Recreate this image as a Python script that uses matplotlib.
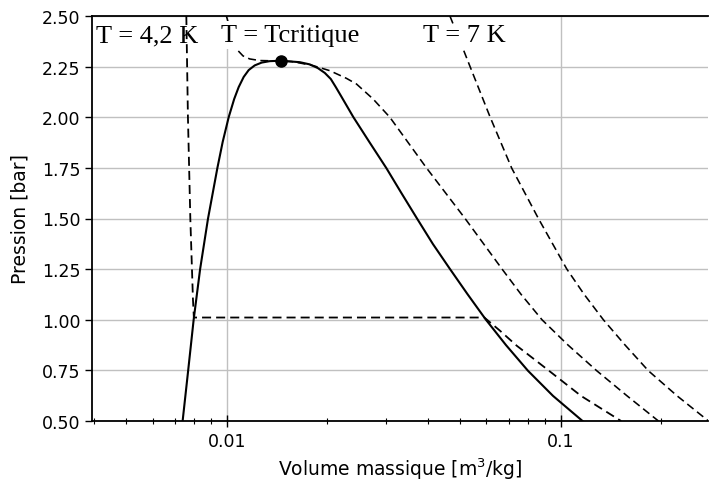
import matplotlib
matplotlib.use("Agg")
import matplotlib.pyplot as plt
from matplotlib.patches import Rectangle
from matplotlib.ticker import FixedLocator, FixedFormatter, LogLocator, NullFormatter

# Saturation dome (solid): liquid branch -> critical point -> vapour branch
dome_v = [0.007380, 0.007666, 0.007963, 0.008328, 0.008789, 0.009378, 0.009728,
          0.010139, 0.010531, 0.010864, 0.011245, 0.011640, 0.012133, 0.012734,
          0.013457, 0.014518,
          0.016554, 0.017738, 0.018745, 0.019673, 0.020505, 0.021225, 0.021971,
          0.023951, 0.026748, 0.030078, 0.033361, 0.037132, 0.041469, 0.046633,
          0.052620, 0.059790, 0.068640, 0.079901, 0.094959, 0.11641]
dome_p = [0.500, 0.748, 1.000, 1.251, 1.498, 1.749, 1.878,
          2.000, 2.090, 2.149, 2.199, 2.233, 2.256, 2.270,
          2.277, 2.279,
          2.272, 2.261, 2.243, 2.219, 2.189, 2.149, 2.107,
          2.001, 1.878, 1.749, 1.626, 1.501, 1.374, 1.251,
          1.127, 1.000, 0.875, 0.748, 0.624, 0.500]

# Isotherm T = 4.2 K
t42_v = [0.007571, 0.007655, 0.007783, 0.007924, 0.007974, 0.059133, 0.065853,
         0.073904, 0.090911, 0.11521, 0.15186]
t42_p = [2.500, 2.001, 1.498, 1.103, 1.011, 1.011, 0.946,
         0.872, 0.757, 0.624, 0.500]

# Isotherm T = Tcritique
tc_v = [0.009979, 0.010280, 0.010641, 0.011191, 0.011721, 0.012559, 0.013457,
        0.014518, 0.015664, 0.016554, 0.018146, 0.020364, 0.022852, 0.024485,
        0.027459, 0.030814, 0.039704, 0.051719, 0.066771, 0.076129, 0.088004,
        0.10532, 0.12841, 0.15828, 0.19645]
tc_p = [2.500, 2.426, 2.341, 2.303, 2.288, 2.280, 2.279,
        2.278, 2.275, 2.268, 2.255, 2.230, 2.192, 2.164,
        2.090, 2.000, 1.749, 1.501, 1.251, 1.126, 1.000,
        0.875, 0.748, 0.624, 0.500]

# Isotherm T = 7 K
t7_v = [0.046633, 0.049964, 0.053532, 0.061462, 0.071397, 0.085782, 0.10437,
        0.11761, 0.13439, 0.15611, 0.18334, 0.22352, 0.27747]
t7_p = [2.500, 2.377, 2.252, 2.003, 1.749, 1.501, 1.251,
        1.126, 1.000, 0.875, 0.748, 0.624, 0.500]

# Critical point
crit_v = [0.014518]
crit_p = [2.279]

yticks = [0.50, 0.75, 1.00, 1.25, 1.50, 1.75, 2.00, 2.25, 2.50]
ytick_labels = ["0.50", "0.75", "1.00", "1.25", "1.50", "1.75", "2.00", "2.25", "2.50"]
xticks = [0.01, 0.1]
xtick_labels = ["0.01", "0.1"]

labels = ["T = 4,2 K", "T = Tcritique", "T = 7 K"]

plt.rcParams['font.family'] = ['Verdana', 'DejaVu Sans']
fig = plt.figure(figsize=(7.1, 4.85), dpi=100)
ax = fig.add_axes([92/710, (485-422)/485, (708.5-92)/710, (422-17)/485])

ax.set_xscale('log')
ax.set_xlim(0.00395, 0.2775)
ax.set_ylim(0.5, 2.5)

dash = (0, (5.0, 2.8))
ax.plot(dome_v, dome_p, color='black', lw=1.5, zorder=3, solid_joinstyle='round')
ax.plot(t42_v, t42_p, color='black', lw=1.3, ls=dash, zorder=3)
ax.plot(tc_v, tc_p, color='black', lw=1.15, ls=dash, zorder=3)
ax.plot(t7_v, t7_p, color='black', lw=1.15, ls=dash, zorder=3)
ax.plot(crit_v, crit_p, 'o', color='black', ms=8, zorder=4)

ax.yaxis.set_major_locator(FixedLocator(yticks))
ax.yaxis.set_major_formatter(FixedFormatter(ytick_labels))
ax.xaxis.set_major_locator(FixedLocator(xticks))
ax.xaxis.set_major_formatter(FixedFormatter(xtick_labels))
ax.xaxis.set_minor_locator(LogLocator(base=10, subs=range(2, 10)))
ax.xaxis.set_minor_formatter(NullFormatter())

ax.grid(True, which='major', color='#c0c0c0', lw=1.0, zorder=0)
ax.set_axisbelow(True)
ax.tick_params(axis='x', which='major', direction='inout', length=8, width=1, labelsize=12.5, pad=4)
ax.tick_params(axis='x', which='minor', direction='inout', length=5, width=0.8)
ax.tick_params(axis='y', which='major', direction='out', length=5, width=1, labelsize=12.5)
for s in ['left', 'bottom', 'top']:
    ax.spines[s].set_linewidth(1.3)
    ax.spines[s].set_color('black')
ax.spines['right'].set_visible(False)

ax.set_xlabel("Volume massique [m$^3$/kg]", fontsize=13.5, labelpad=4)
ax.set_ylabel("Pression [bar]", fontsize=13.5, labelpad=9)

# white boxes behind two labels
ax.add_patch(Rectangle((0.208, 0.919), 0.243, 0.069, transform=ax.transAxes,
                       facecolor='white', edgecolor='none', zorder=3.5))
ax.add_patch(Rectangle((0.532, 0.919), 0.19, 0.061, transform=ax.transAxes,
                       facecolor='white', edgecolor='none', zorder=3.5))

serif = ['Liberation Serif', 'DejaVu Serif']
ty = (422-36)/405
ax.text((96-92)/616, ty, labels[0], transform=ax.transAxes, fontsize=19,
        family=serif, va='center', ha='left', zorder=5)
ax.text((221-92)/616, ty, labels[1], transform=ax.transAxes, fontsize=19,
        family=serif, va='center', ha='left', zorder=5)
ax.text((423-92)/616, ty, labels[2], transform=ax.transAxes, fontsize=19,
        family=serif, va='center', ha='left', zorder=5)

fig.savefig("out.png", dpi=100)
